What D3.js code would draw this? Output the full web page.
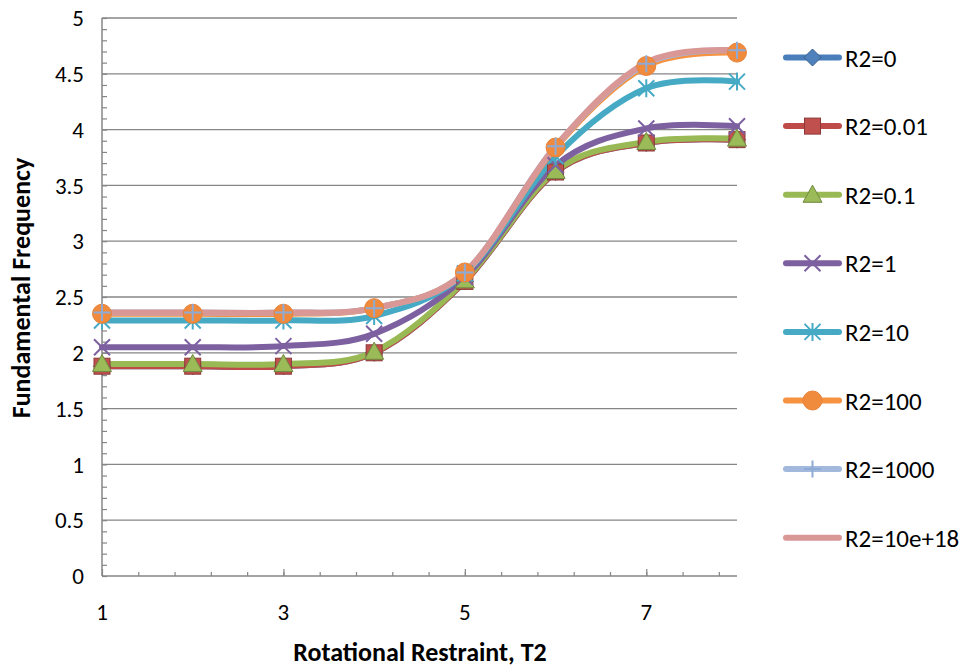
<!DOCTYPE html>
<html>
<head>
<meta charset="utf-8">
<script src="https://cdn.jsdelivr.net/npm/d3@7"></script>
<style>
  html, body { margin: 0; padding: 0; background: #ffffff; }
  svg { display: block; font-family: Carlito, Calibri, Lato, "Open Sans", sans-serif; }
</style>
</head>
<body>
<svg id="chart" width="971" height="671"></svg>
<script>
// Rotational restraint T2 (x) against fundamental frequency, one series per R2
const xValues = [1, 2, 3, 4, 5, 6, 7, 8];
const seriesNames = ["R2=0", "R2=0.01", "R2=0.1", "R2=1", "R2=10", "R2=100", "R2=1000", "R2=10e+18"];
const r2_0      = [1.88, 1.88, 1.88, 2.00, 2.64, 3.62, 3.88, 3.91];
const r2_001    = [1.88, 1.88, 1.88, 2.00, 2.64, 3.62, 3.88, 3.91];
const r2_01     = [1.90, 1.90, 1.90, 2.01, 2.65, 3.63, 3.89, 3.92];
const r2_1      = [2.05, 2.05, 2.06, 2.17, 2.68, 3.68, 4.01, 4.03];
const r2_10     = [2.29, 2.29, 2.29, 2.33, 2.71, 3.76, 4.37, 4.43];
const r2_100    = [2.35, 2.35, 2.35, 2.40, 2.72, 3.84, 4.57, 4.69];
const r2_1000   = [2.36, 2.36, 2.36, 2.40, 2.72, 3.85, 4.59, 4.71];
const r2_10e18  = [2.36, 2.36, 2.36, 2.40, 2.72, 3.85, 4.60, 4.71];
const yTickLabels = ["0", "0.5", "1", "1.5", "2", "2.5", "3", "3.5", "4", "4.5", "5"];
const xTickLabels = ["1", "3", "5", "7"];

const seriesValues = [r2_0, r2_001, r2_01, r2_1, r2_10, r2_100, r2_1000, r2_10e18];

// Line colour, marker shape and marker colours per series
const styles = [
  { line: "#4A7EBB", marker: "diamond",  fill: "#4F81BD", stroke: "#385D8A" },
  { line: "#BE4B48", marker: "square",   fill: "#C0504D", stroke: "#8C3836" },
  { line: "#98B954", marker: "triangle", fill: "#9BBB59", stroke: "#71893F" },
  { line: "#7D60A0", marker: "x",        fill: "none",    stroke: "#7D60A0" },
  { line: "#46AAC5", marker: "star",     fill: "none",    stroke: "#46AAC5" },
  { line: "#F69240", marker: "circle",   fill: "#F08A3C", stroke: "#E8833A" },
  { line: "#A2B8DC", marker: "plus",     fill: "none",    stroke: "#8EABD6" },
  { line: "#D99795", marker: "none",     fill: "none",    stroke: "none" }
];

const svg = d3.select("#chart");
const plotLeft = 102, plotRight = 737, plotTop = 18, plotBottom = 576;

const x = d3.scaleLinear().domain([1, 8]).range([plotLeft, plotRight]);
const y = d3.scaleLinear().domain([0, 5]).range([plotBottom, plotTop]);

const axisColor = "#868686";

// Horizontal gridlines
svg.append("g")
  .selectAll("line")
  .data(yTickLabels.map(Number).filter(v => v > 0))
  .join("line")
  .attr("x1", plotLeft).attr("x2", plotRight)
  .attr("y1", d => y(d)).attr("y2", d => y(d))
  .attr("stroke", axisColor).attr("stroke-width", 1.3);

// Y axis: minor ticks every 0.1 drawn inward
const yAxis = d3.axisRight(y)
  .tickValues(d3.range(0, 51).map(i => i / 10))
  .tickSize(5)
  .tickFormat("");
const gy = svg.append("g").attr("transform", `translate(${plotLeft},0)`).call(yAxis);
gy.select(".domain").remove();
gy.selectAll(".tick line").attr("stroke", axisColor).attr("stroke-width", 1.2);
svg.append("line")
  .attr("x1", plotLeft).attr("x2", plotLeft).attr("y1", plotTop).attr("y2", plotBottom)
  .attr("stroke", axisColor).attr("stroke-width", 1.5);

// Y tick labels
svg.append("g")
  .selectAll("text")
  .data(yTickLabels)
  .join("text")
  .attr("x", 84)
  .attr("y", d => y(+d))
  .attr("dy", "0.36em")
  .attr("text-anchor", "end")
  .attr("font-size", 23)
  .attr("fill", "#000")
  .text(d => d);

// X axis: minor ticks every 0.4, major ticks every 2, both inward
const xMinor = d3.axisTop(x)
  .tickValues(d3.range(1, 18).map(i => 1 + i * 0.4).filter(v => v <= 8.001))
  .tickSize(4).tickFormat("");
const gxm = svg.append("g").attr("transform", `translate(0,${plotBottom})`).call(xMinor);
gxm.select(".domain").remove();
gxm.selectAll(".tick line").attr("stroke", axisColor).attr("stroke-width", 1.2);

const xMajor = d3.axisTop(x)
  .tickValues(xTickLabels.map(Number))
  .tickSize(7).tickFormat("");
const gxM = svg.append("g").attr("transform", `translate(0,${plotBottom})`).call(xMajor);
gxM.select(".domain").remove();
gxM.selectAll(".tick line").attr("stroke", axisColor).attr("stroke-width", 1.2);

svg.append("line")
  .attr("x1", plotLeft).attr("x2", plotRight).attr("y1", plotBottom).attr("y2", plotBottom)
  .attr("stroke", axisColor).attr("stroke-width", 1.5);

// X tick labels
svg.append("g")
  .selectAll("text")
  .data(xTickLabels)
  .join("text")
  .attr("x", d => x(+d))
  .attr("y", 620)
  .attr("text-anchor", "middle")
  .attr("font-size", 23)
  .attr("fill", "#000")
  .text(d => d);

// Axis titles
svg.append("text")
  .attr("x", 420).attr("y", 661)
  .attr("text-anchor", "middle")
  .attr("font-size", 26).attr("font-weight", "bold")
  .text("Rotational Restraint, T2");

svg.append("text")
  .attr("transform", "translate(30,288) rotate(-90)")
  .attr("text-anchor", "middle")
  .attr("font-size", 26).attr("font-weight", "bold")
  .text("Fundamental Frequency");

// Smoothed series lines
const line = d3.line()
  .x((d, i) => x(xValues[i]))
  .y(d => y(d))
  .curve(d3.curveCardinal.tension(0));

const linesG = svg.append("g");
seriesValues.forEach((vals, s) => {
  linesG.append("path")
    .datum(vals)
    .attr("d", line)
    .attr("fill", "none")
    .attr("stroke", styles[s].line)
    .attr("stroke-width", 6)
    .attr("stroke-linecap", "round")
    .attr("stroke-linejoin", "round");
});

// Marker drawing, centred at (cx, cy)
function drawMarker(g, type, cx, cy, st) {
  if (type === "diamond") {
    const r = 8.5;
    g.append("path").attr("d", `M${cx},${cy - r}L${cx + r},${cy}L${cx},${cy + r}L${cx - r},${cy}Z`)
      .attr("fill", st.fill).attr("stroke", st.stroke).attr("stroke-width", 1);
  } else if (type === "square") {
    const r = 8;
    g.append("rect").attr("x", cx - r).attr("y", cy - r).attr("width", 2 * r).attr("height", 2 * r)
      .attr("fill", st.fill).attr("stroke", st.stroke).attr("stroke-width", 1);
  } else if (type === "triangle") {
    const r = 9.5;
    g.append("path").attr("d", `M${cx},${cy - r}L${cx + r},${cy + r * 0.8}L${cx - r},${cy + r * 0.8}Z`)
      .attr("fill", st.fill).attr("stroke", st.stroke).attr("stroke-width", 1);
  } else if (type === "x") {
    const r = 8;
    g.append("path").attr("d", `M${cx - r},${cy - r}L${cx + r},${cy + r}M${cx - r},${cy + r}L${cx + r},${cy - r}`)
      .attr("stroke", st.stroke).attr("stroke-width", 2);
  } else if (type === "star") {
    const r = 8;
    g.append("path").attr("d", `M${cx - r},${cy - r}L${cx + r},${cy + r}M${cx - r},${cy + r}L${cx + r},${cy - r}M${cx},${cy - r - 1}L${cx},${cy + r + 1}`)
      .attr("stroke", st.stroke).attr("stroke-width", 2);
  } else if (type === "circle") {
    g.append("circle").attr("cx", cx).attr("cy", cy).attr("r", 9.5)
      .attr("fill", st.fill).attr("stroke", st.stroke).attr("stroke-width", 1);
  } else if (type === "plus") {
    const r = 8.5;
    g.append("path").attr("d", `M${cx - r},${cy}L${cx + r},${cy}M${cx},${cy - r}L${cx},${cy + r}`)
      .attr("stroke", st.stroke).attr("stroke-width", 2);
  }
}

// Markers drawn above all lines
const markersG = svg.append("g");
seriesValues.forEach((vals, s) => {
  vals.forEach((v, i) => drawMarker(markersG, styles[s].marker, x(xValues[i]), y(v), styles[s]));
});

// Legend
const legendG = svg.append("g");
const legendY0 = 57.5, legendStep = 68.6;
seriesNames.forEach((name, s) => {
  const ly = legendY0 + s * legendStep;
  legendG.append("line")
    .attr("x1", 786).attr("x2", 839).attr("y1", ly).attr("y2", ly)
    .attr("stroke", styles[s].line).attr("stroke-width", 6).attr("stroke-linecap", "round");
  drawMarker(legendG, styles[s].marker, 812.5, ly, styles[s]);
  legendG.append("text")
    .attr("x", 845).attr("y", ly)
    .attr("dy", "0.36em")
    .attr("font-size", 25)
    .attr("fill", "#000")
    .text(name);
});
</script>
</body>
</html>
